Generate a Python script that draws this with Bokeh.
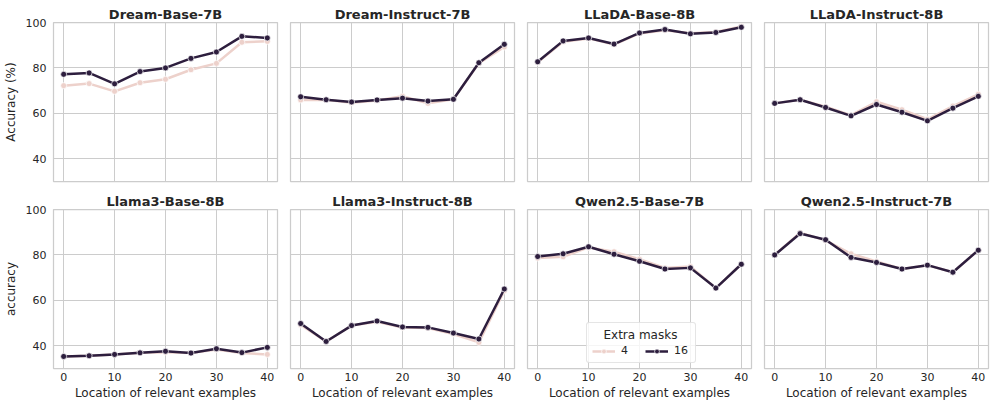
from bokeh.plotting import figure
from bokeh.layouts import column, row
from bokeh.models import Legend, LegendItem, Range1d, FixedTicker
from bokeh.embed import file_html
from bokeh.resources import INLINE

locations = [0, 5, 10, 15, 20, 25, 30, 35, 40]
y_ticks = [40, 60, 80, 100]
x_ticks = [0, 10, 20, 30, 40]
mask_levels = ["4", "16"]

model_names = ["Dream-Base-7B", "Dream-Instruct-7B", "LLaDA-Base-8B", "LLaDA-Instruct-8B",
               "Llama3-Base-8B", "Llama3-Instruct-8B", "Qwen2.5-Base-7B", "Qwen2.5-Instruct-7B"]

dream_base_4 = [72.2, 73.1, 69.7, 73.5, 75.0, 79.2, 82.0, 91.3, 91.7]
dream_base_16 = [77.2, 77.8, 73.0, 78.4, 80.0, 84.2, 87.0, 93.9, 93.2]
dream_instruct_4 = [65.9, 66.0, 64.7, 65.7, 67.5, 64.4, 66.2, 82.1, 89.2]
dream_instruct_16 = [67.3, 66.0, 65.0, 65.9, 66.7, 65.4, 66.2, 82.3, 90.4]
llada_base_4 = [82.5, 91.5, 93.0, 90.3, 95.2, 96.6, 95.3, 95.8, 98.3]
llada_base_16 = [82.7, 91.9, 93.2, 90.5, 95.4, 96.9, 95.0, 95.6, 97.9]
llada_instruct_4 = [64.4, 66.0, 62.9, 59.2, 65.1, 61.6, 57.4, 63.2, 68.4]
llada_instruct_16 = [64.4, 66.0, 62.6, 58.9, 63.9, 60.5, 56.7, 62.3, 67.5]
llama_base_4 = [35.3, 35.6, 36.2, 36.9, 37.2, 36.8, 38.4, 36.8, 36.2]
llama_base_16 = [35.3, 35.6, 36.2, 36.9, 37.6, 36.8, 38.7, 37.0, 39.3]
llama_instruct_4 = [49.2, 41.9, 48.9, 50.6, 48.0, 47.8, 45.2, 41.5, 64.2]
llama_instruct_16 = [49.8, 41.9, 48.9, 50.9, 48.3, 48.1, 45.6, 43.0, 65.0]
qwen_base_4 = [78.6, 79.2, 83.3, 81.4, 78.1, 74.3, 74.9, 65.4, 75.9]
qwen_base_16 = [79.3, 80.5, 83.6, 80.3, 77.2, 73.8, 74.3, 65.4, 75.9]
qwen_instruct_4 = [80.0, 89.8, 86.4, 80.5, 77.1, 73.8, 75.5, 72.4, 82.1]
qwen_instruct_16 = [80.0, 89.4, 86.7, 78.9, 76.7, 73.8, 75.5, 72.4, 82.1]

series_4 = [dream_base_4, dream_instruct_4, llada_base_4, llada_instruct_4,
            llama_base_4, llama_instruct_4, qwen_base_4, qwen_instruct_4]
series_16 = [dream_base_16, dream_instruct_16, llada_base_16, llada_instruct_16,
             llama_base_16, llama_instruct_16, qwen_base_16, qwen_instruct_16]

LIGHT = "#edd1cb"
DARK = "#2d1e3e"
TEXT = "#262626"
GRID = "#cccccc"
FONT = "DejaVu Sans"

figs = []
for i, (name, v4, v16) in enumerate(zip(model_names, series_4, series_16)):
    r, c = divmod(i, 4)
    p = figure(frame_width=224, frame_height=159,
               x_range=Range1d(-2, 42), y_range=Range1d(30, 100),
               output_backend="svg", toolbar_location=None, title=name,
               min_border_left=44 if c == 0 else 6, min_border_right=7,
               min_border_top=22 if r == 0 else 14,
               min_border_bottom=9 if r == 0 else 26)
    p.background_fill_color = "white"
    p.border_fill_color = "white"
    p.outline_line_color = GRID
    p.outline_line_width = 1.25
    p.title.text_font = FONT
    p.title.text_font_size = "13px"
    p.title.text_font_style = "bold"
    p.title.text_color = TEXT
    p.title.align = "center"
    p.title.standoff = 2
    p.title.offset = 0

    for ax in (p.xaxis[0], p.yaxis[0]):
        ax.axis_line_color = None
        ax.major_tick_line_color = None
        ax.minor_tick_line_color = None
        ax.major_tick_out = 0
        ax.major_tick_in = 0
        ax.major_label_text_font = FONT
        ax.major_label_text_font_size = "11px"
        ax.major_label_text_color = TEXT
        ax.axis_label_text_font = FONT
        ax.axis_label_text_font_size = "12px"
        ax.axis_label_text_font_style = "normal"
        ax.axis_label_text_color = TEXT
    p.yaxis.major_label_standoff = 7
    p.yaxis.axis_label_standoff = 5
    p.xaxis.major_label_standoff = 4
    p.xaxis.axis_label_standoff = 2
    p.xaxis.ticker = FixedTicker(ticks=x_ticks)
    p.yaxis.ticker = FixedTicker(ticks=y_ticks)
    p.xgrid.ticker = FixedTicker(ticks=x_ticks)
    p.ygrid.ticker = FixedTicker(ticks=y_ticks)
    p.xgrid.grid_line_color = GRID
    p.ygrid.grid_line_color = GRID
    p.xgrid.grid_line_width = 1
    p.ygrid.grid_line_width = 1

    if r == 0:
        p.xaxis.visible = False
    else:
        p.xaxis.axis_label = "Location of relevant examples"
    if c == 0:
        p.yaxis.axis_label = "Accuracy (%)" if r == 0 else "accuracy"
    else:
        p.yaxis.visible = False

    l4 = p.line(locations, v4, line_color=LIGHT, line_width=2.5)
    s4 = p.scatter(locations, v4, size=6, fill_color=LIGHT, line_color="white", line_width=0.7)
    l16 = p.line(locations, v16, line_color=DARK, line_width=2.5)
    s16 = p.scatter(locations, v16, size=6, fill_color=DARK, line_color="white", line_width=0.7)

    if i == 6:
        legend = Legend(items=[LegendItem(label=mask_levels[0], renderers=[l4, s4]),
                               LegendItem(label=mask_levels[1], renderers=[l16, s16])],
                        orientation="horizontal", location=(59, 5),
                        title="\u00a0\u00a0\u00a0Extra masks")
        legend.title_text_font = FONT
        legend.title_text_font_size = "12px"
        legend.title_text_font_style = "normal"
        legend.title_text_color = TEXT
        legend.label_text_font = FONT
        legend.label_text_font_size = "11px"
        legend.label_text_color = TEXT
        legend.border_line_color = GRID
        legend.border_line_width = 1
        legend.border_radius = 3
        legend.background_fill_color = "white"
        legend.background_fill_alpha = 0.8
        legend.glyph_width = 23
        legend.glyph_height = 12
        legend.padding = 5
        legend.spacing = 8
        legend.label_width = 16
        legend.margin = 0
        legend.label_standoff = 6
        legend.title_standoff = 2
        p.add_layout(legend, "center")
    figs.append(p)

layout = column(row(*figs[:4]), row(*figs[4:]))
open("out.html", "w").write(file_html(layout, INLINE))
